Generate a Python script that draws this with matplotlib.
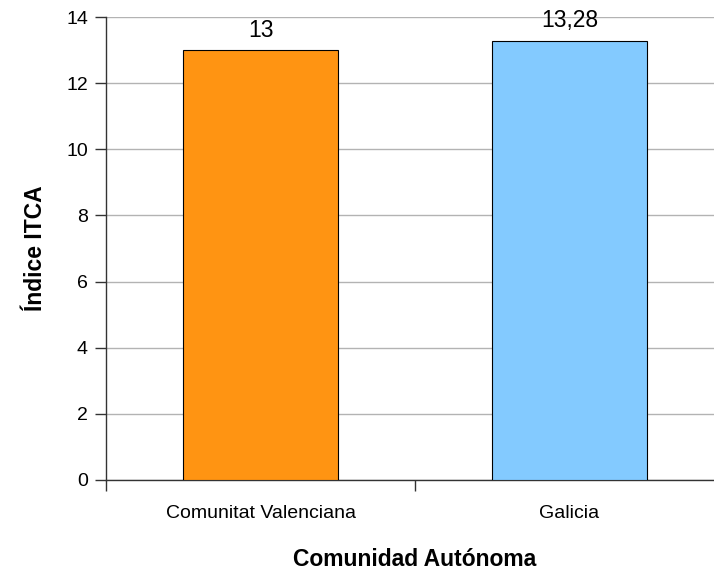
import matplotlib.pyplot as plt
import numpy as np

plt.rcParams['font.family'] = ['Liberation Sans', 'DejaVu Sans']

categories = ['Comunitat Valenciana', 'Galicia']
values = [13, 13.28]
value_labels = ['13', '13,28']
colors = ['#ff9412', '#83caff']
yticks = [0, 2, 4, 6, 8, 10, 12, 14]

fig = plt.figure(figsize=(7.14, 5.71), dpi=100)
# plot area runs past the right edge of the picture, as in the original
ax = fig.add_axes([106 / 714, 1 - 480 / 571, 618 / 714, 463 / 571])

x = np.arange(len(categories))
bars = ax.bar(x, values, width=0.5, color=colors, edgecolor='black', linewidth=0.8, zorder=3)

for b, lab in zip(bars, value_labels):
    ax.annotate(lab, (b.get_x() + b.get_width() / 2, b.get_height()),
                xytext=(0, 6), textcoords='offset points',
                ha='center', va='bottom', fontsize=16.5)

ax.set_xlim(-0.5, len(categories) - 0.5)
ax.set_ylim(0, 14)
ax.set_yticks(yticks)
ax.yaxis.grid(True, color='#b3b3b3', linewidth=1, zorder=0)

ax.set_xticks(x)
ax.set_xticklabels(categories)
ax.set_xticks(np.arange(len(categories) + 1) - 0.5, minor=True)
ax.tick_params(axis='x', which='major', length=0, pad=18, labelsize=14)
ax.tick_params(axis='x', which='minor', length=8, width=1, color='#333333')
ax.tick_params(axis='y', length=8, width=1, color='#333333', labelsize=14, pad=5)

for s in ['top', 'right']:
    ax.spines[s].set_visible(False)
for s in ['left', 'bottom']:
    ax.spines[s].set_color('#333333')
    ax.spines[s].set_linewidth(1)

ax.set_xlabel('Comunidad Autónoma', fontsize=16.5, fontweight='bold')
ax.xaxis.label.set_va('center')
ax.xaxis.set_label_coords(0.5, -80 / 463)
ax.set_ylabel('Índice ITCA', fontsize=16.5, fontweight='bold')
ax.yaxis.label.set_va('center')
ax.yaxis.set_label_coords(-70 / 618, 0.5)

fig.savefig('out.png', dpi=100)
